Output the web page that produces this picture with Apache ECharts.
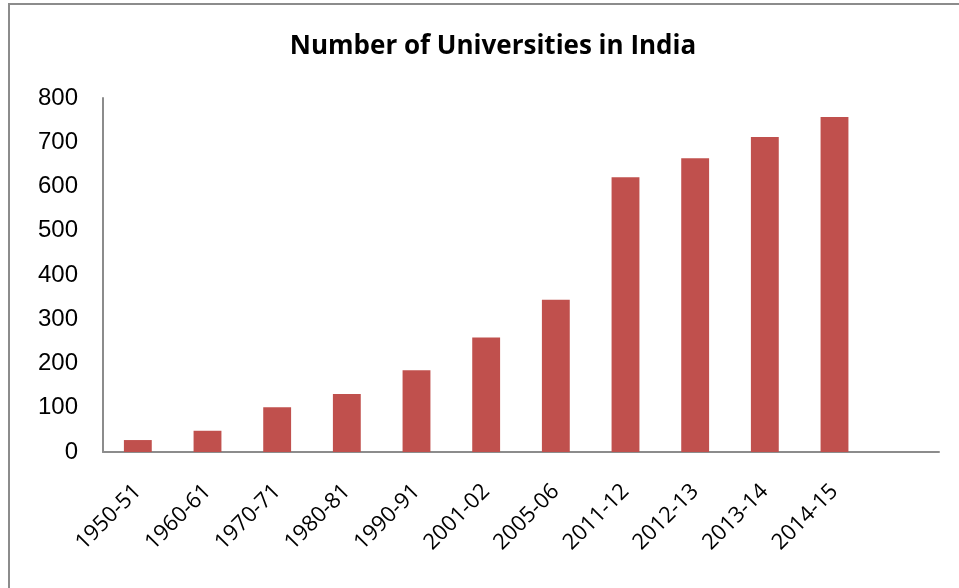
<!DOCTYPE html>
<html>
<head>
<meta charset="utf-8">
<script src="https://cdn.jsdelivr.net/npm/echarts@6/dist/echarts.min.js"></script>
<style>
html,body{margin:0;padding:0;background:#fff;overflow:hidden;}
#frame{position:absolute;left:8px;top:3px;width:1000px;height:700px;border:2px solid #8c8c8c;box-sizing:border-box;}
#chart{position:absolute;left:0;top:0;width:959px;height:588px;}
</style>
</head>
<body>
<div id="frame"></div>
<div id="chart"></div>
<script>
const categories = ['1950-51','1960-61','1970-71','1980-81','1990-91','2001-02','2005-06','2011-12','2012-13','2013-14','2014-15',''];
const universities = [27, 48, 101, 131, 185, 259, 344, 621, 664, 712, 757, null];
const yTicks = {min: 0, max: 800, interval: 100};

const chart = echarts.init(document.getElementById('chart'), null, {renderer: 'canvas'});
chart.setOption({
  animation: false,
  backgroundColor: 'transparent',
  title: {
    text: 'Number of Universities in India',
    left: 488,
    textAlign: 'center',
    top: 29,
    textStyle: {fontFamily: 'Open Sans', fontWeight: 'bold', fontSize: 26, color: '#000'}
  },
  grid: {left: 103, right: 20, top: 98, bottom: 136, containLabel: false},
  xAxis: {
    type: 'category',
    data: categories,
    axisLine: {lineStyle: {color: '#8c8c8c', width: 2}},
    axisTick: {show: false},
    axisLabel: {rotate: 45, interval: 0, margin: 36, fontFamily: 'Open Sans', fontSize: 22, color: '#000'},
    splitLine: {show: false}
  },
  yAxis: {
    type: 'value',
    min: yTicks.min, max: yTicks.max, interval: yTicks.interval,
    axisLine: {show: true, lineStyle: {color: '#8c8c8c', width: 2}},
    axisTick: {show: false},
    axisLabel: {margin: 25, fontFamily: 'Liberation Sans', fontSize: 24, color: '#000'},
    splitLine: {show: false}
  },
  series: [{
    type: 'bar',
    data: universities,
    barWidth: '40%',
    itemStyle: {color: '#C0504D'}
  }]
});
</script>
</body>
</html>
